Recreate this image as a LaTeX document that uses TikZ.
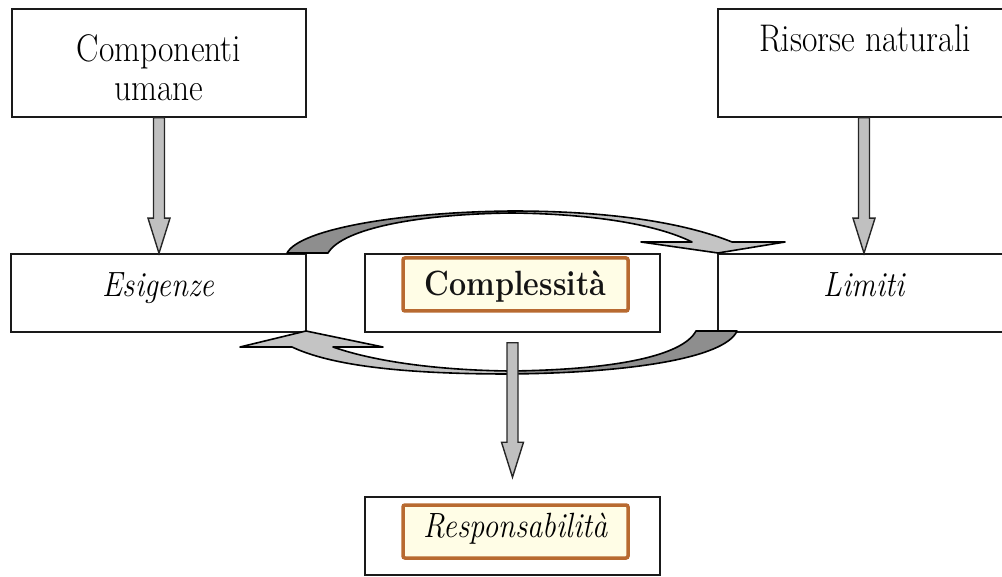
\documentclass[tikz,border=0pt]{standalone}
\usetikzlibrary{calc}
\definecolor{boxline}{HTML}{1A1A1A}
\definecolor{hlline}{HTML}{B86A30}
\definecolor{hlfill}{HTML}{FFFDE6}
\definecolor{darkface}{HTML}{8E8E8E}
\definecolor{lightface}{HTML}{C4C4C4}
\definecolor{shaftfill}{HTML}{C0C0C0}
\newcommand\TallText[1]{\scalebox{1}[1.15]{#1}}
\tikzset{
  frame/.style={draw=boxline, line width=1.6pt, fill=white, inner sep=0pt},
  hlbox/.style={draw=hlline, fill=hlfill, line width=3.5pt, rounded corners=2pt, inner sep=0pt,
                minimum width=225pt, minimum height=53pt},
  upright/.style={font=\fontsize{33.5}{39}\selectfont, text=black},
  slanted/.style={font=\fontsize{30.5}{36}\selectfont\itshape, text=black},
  heavy/.style={font=\fontsize{30.5}{36}\selectfont\bfseries, text=black!92},
  curvearrow/.style={draw=black, line width=1.6pt, line join=round},
  shaftstyle/.style={draw=black!85, fill=shaftfill, line width=1.4pt, line join=miter},
}
\newcommand\DrawDownArrow[2]{%
  \filldraw[shaftstyle] ([xshift=-5.5pt]#1) -- ([xshift=-5.5pt,yshift=35pt]#2)
    -- ([xshift=-11pt,yshift=35pt]#2) -- (#2) -- ([xshift=11pt,yshift=35pt]#2)
    -- ([xshift=5.5pt,yshift=35pt]#2) -- ([xshift=5.5pt]#1) -- cycle;}
\begin{document}
\begin{tikzpicture}[x=1pt,y=-1pt]
\useasboundingbox (0,0) rectangle (1002,577);
% top boxes
\node[frame, minimum width=294pt, minimum height=108pt] (comp) at (159,63) {};
\node[upright, align=center] (compT) at (159,68) {\TallText{Componenti}\\\TallText{umane}};
\node[frame, minimum width=292pt, minimum height=108pt] (ris) at (864,63) {};
\node[upright, anchor=base] (risT) at (865,52) {\TallText{Risorse naturali}};
% middle row
\node[frame, slanted, minimum width=295pt, minimum height=78pt, text height=22pt, text depth=15pt] (esi) at (158.5,293) {\TallText{Esigenze}};
\node[frame, slanted, minimum width=292pt, minimum height=78pt, text height=22pt, text depth=15pt] (lim) at (864,293) {\TallText{Limiti}};
\node[frame, minimum width=295pt, minimum height=78pt] (cplx) at (512.5,293) {};
\node[hlbox, heavy, text height=22pt, text depth=0pt] (cplxIn) at (515.5,284.5) {\TallText{Complessità}};
% bottom
\node[frame, minimum width=295pt, minimum height=78pt] (resp) at (512.5,536) {};
\node[hlbox, slanted, text height=22pt, text depth=10pt] (respIn) at (515.5,531.5) {\TallText{Responsabilità}};
% curved arrow top (Esigenze -> Limiti)
\filldraw[curvearrow, fill=darkface] (287,253) .. controls (300,229) and (400,212) .. (512,211)
  -- (512,213) .. controls (420,214) and (343,228) .. (328,253) -- cycle;
\filldraw[curvearrow, fill=lightface] (512,211) .. controls (620,211) and (690,225) .. (732,242)
  -- (785,242) -- (718,253) -- (641,242) -- (692,242)
  .. controls (660,226) and (600,214) .. (512,213) -- cycle;
% curved arrow bottom (Limiti -> Esigenze)
\filldraw[curvearrow, fill=darkface] (737,331) .. controls (725,358) and (630,373) .. (509,374)
  -- (509,371) .. controls (610,370) and (682,357) .. (696,331) -- cycle;
\filldraw[curvearrow, fill=lightface] (509,374) .. controls (400,374) and (330,365) .. (292,347)
  -- (240,347) -- (306,331) -- (383,347) -- (333,347)
  .. controls (370,360) and (430,370) .. (509,371) -- cycle;
% straight arrows
\coordinate (t1) at (comp.south |- esi.north);
\coordinate (t2) at (ris.south |- lim.north);
\coordinate (c0) at ([yshift=-10pt]cplx.south);
\coordinate (c1) at ([yshift=19pt]resp.north);
\DrawDownArrow{comp.south}{t1}
\DrawDownArrow{ris.south}{t2}
\DrawDownArrow{c0}{c1}
\end{tikzpicture}
\end{document}
